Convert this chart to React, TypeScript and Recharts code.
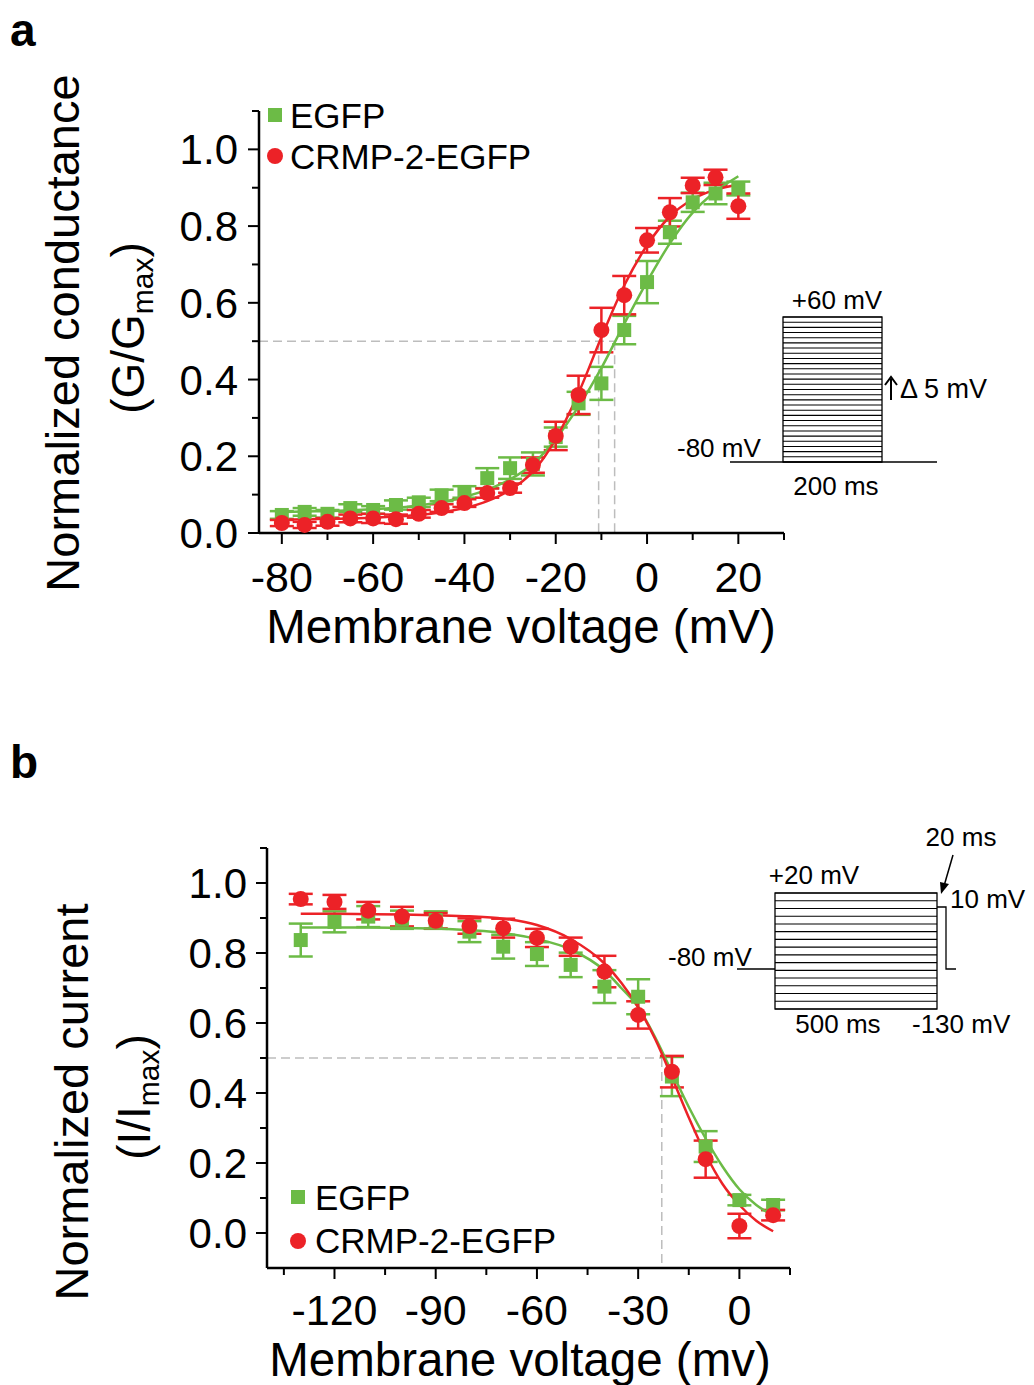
import React from "react";
import { ComposedChart, Scatter, Line, XAxis, YAxis, ErrorBar, ReferenceLine } from "recharts";

const GREEN = "#6cbb46";
const RED = "#ec2227";
const GRAY = "#bdbdbd";
const FONT = "'Liberation Sans', Arial, sans-serif";

// panel a: activation (G/Gmax)
const actV = [-80, -75, -70, -65, -60, -55, -50, -45, -40, -35, -30, -25, -20, -15, -10, -5, 0, 5, 10, 15, 20];
const actEgfp = [0.047, 0.055, 0.05, 0.065, 0.06, 0.073, 0.08, 0.098, 0.107, 0.143, 0.169, 0.18, 0.25, 0.338, 0.39, 0.529, 0.654, 0.784, 0.862, 0.885, 0.898];
const actEgfpErr = [0.01, 0.01, 0.01, 0.01, 0.01, 0.012, 0.012, 0.015, 0.015, 0.026, 0.028, 0.03, 0.025, 0.03, 0.043, 0.037, 0.055, 0.03, 0.025, 0.028, 0.018];
const actCrmp = [0.026, 0.021, 0.029, 0.038, 0.038, 0.036, 0.05, 0.065, 0.078, 0.104, 0.117, 0.177, 0.253, 0.36, 0.529, 0.62, 0.763, 0.836, 0.906, 0.927, 0.852];
const actCrmpErr = [0.008, 0.008, 0.01, 0.01, 0.012, 0.012, 0.01, 0.01, 0.01, 0.012, 0.012, 0.02, 0.037, 0.05, 0.058, 0.05, 0.032, 0.037, 0.02, 0.02, 0.033];
const actFitEgfp = [0.055, 0.056, 0.057, 0.059, 0.062, 0.066, 0.072, 0.081, 0.094, 0.113, 0.14, 0.18, 0.245, 0.33, 0.43, 0.545, 0.655, 0.755, 0.835, 0.89, 0.93];
const actFitCrmp = [0.035, 0.036, 0.037, 0.038, 0.04, 0.043, 0.047, 0.054, 0.065, 0.083, 0.112, 0.16, 0.245, 0.365, 0.51, 0.645, 0.75, 0.825, 0.87, 0.895, 0.908];
const actHalf = { egfp: -7.1, crmp: -10.6 };
const actXTicks = [-80, -70, -60, -50, -40, -30, -20, -10, 0, 10, 20, 30];

// panel b: inactivation (I/Imax)
const inactV = [-130, -120, -110, -100, -90, -80, -70, -60, -50, -40, -30, -20, -10, 0, 10];
const inactEgfp = [0.837, 0.889, 0.904, 0.895, 0.894, 0.861, 0.818, 0.797, 0.766, 0.704, 0.675, 0.447, 0.247, 0.094, 0.08];
const inactEgfpErr = [0.047, 0.03, 0.03, 0.026, 0.025, 0.03, 0.034, 0.034, 0.035, 0.047, 0.05, 0.056, 0.044, 0.015, 0.015];
const inactCrmp = [0.954, 0.946, 0.921, 0.904, 0.892, 0.877, 0.871, 0.843, 0.818, 0.747, 0.623, 0.461, 0.211, 0.02, 0.051];
const inactCrmpErr = [0.015, 0.02, 0.025, 0.028, 0.022, 0.022, 0.027, 0.026, 0.026, 0.045, 0.039, 0.045, 0.053, 0.035, 0.015];
const inactFitV = [-130, -120, -110, -100, -90, -80, -70, -60, -50, -40, -35, -30, -25, -20, -15, -10, -5, 0, 5, 10];
const inactFitEgfp = [0.873, 0.873, 0.873, 0.872, 0.87, 0.865, 0.857, 0.84, 0.81, 0.75, 0.7, 0.645, 0.56, 0.46, 0.36, 0.27, 0.19, 0.125, 0.08, 0.05];
const inactFitCrmp = [0.912, 0.912, 0.911, 0.91, 0.908, 0.905, 0.898, 0.88, 0.84, 0.77, 0.715, 0.645, 0.555, 0.445, 0.33, 0.225, 0.14, 0.08, 0.035, 0.005];
const inactHalf = -23;
const inactXTicks = [-135, -120, -105, -90, -75, -60, -45, -30, -15, 0, 15];

const yTicks = [0, 0.1, 0.2, 0.3, 0.4, 0.5, 0.6, 0.7, 0.8, 0.9, 1.0, 1.1];

const rows = (xs: number[], ys: number[], es?: number[]) =>
  xs.map((v, i) => ({ v, y: ys[i], e: es ? es[i] : 0 }));

const Square = (p: any) => <rect x={p.cx - 7} y={p.cy - 7} width={14} height={14} fill={GREEN} />;
const Dot = (p: any) => <circle cx={p.cx} cy={p.cy} r={8} fill={RED} />;

const makeXTick = (isMajor: (v: number) => boolean, dy: number) => (p: any) => {
  const m = isMajor(p.payload.value);
  return (
    <g>
      <line x1={p.x} x2={p.x} y1={p.y} y2={p.y + (m ? 11 : 7)} stroke="#000" strokeWidth={2} />
      {m && (
        <text x={p.x} y={p.y + dy} textAnchor="middle" fontSize={43} fontFamily={FONT} fill="#000">
          {p.payload.value}
        </text>
      )}
    </g>
  );
};

const makeYTick = (gap: number) => (p: any) => {
  const v = p.payload.value;
  const m = Math.round(v * 10) % 2 === 0;
  return (
    <g>
      <line x1={p.x} x2={p.x - (m ? 11 : 7)} y1={p.y} y2={p.y} stroke="#000" strokeWidth={2} />
      {m && (
        <text x={p.x - gap} y={p.y + 15} textAnchor="end" fontSize={42} fontFamily={FONT} fill="#000">
          {v.toFixed(1)}
        </text>
      )}
    </g>
  );
};

function ActivationChart() {
  const eg = rows(actV, actEgfp, actEgfpErr);
  const cr = rows(actV, actCrmp, actCrmpErr);
  return (
    <ComposedChart width={1034} height={680} margin={{ top: 111, right: 250, left: 179, bottom: 87 }}>
      <XAxis type="number" dataKey="v" domain={[-85, 30]} ticks={actXTicks} interval={0}
        tickSize={0} tickMargin={0} tickLine={false} axisLine={{ stroke: "#000", strokeWidth: 2.5 }}
        height={60} tick={makeXTick((v) => v % 20 === 0, 59)} allowDataOverflow />
      <YAxis type="number" dataKey="y" domain={[0, 1.1]} ticks={yTicks} interval={0}
        tickSize={0} tickMargin={0} tickLine={false} axisLine={{ stroke: "#000", strokeWidth: 2.5 }}
        width={80} tick={makeYTick(21)} allowDataOverflow />
      <ReferenceLine segment={[{ x: -85, y: 0.5 }, { x: actHalf.egfp, y: 0.5 }]} stroke={GRAY} strokeWidth={1.5} strokeDasharray="9 5" />
      <ReferenceLine segment={[{ x: actHalf.crmp, y: 0.5 }, { x: actHalf.crmp, y: 0 }]} stroke={GRAY} strokeWidth={1.5} strokeDasharray="9 5" />
      <ReferenceLine segment={[{ x: actHalf.egfp, y: 0.5 }, { x: actHalf.egfp, y: 0 }]} stroke={GRAY} strokeWidth={1.5} strokeDasharray="9 5" />
      <Scatter data={eg} dataKey="y" shape={Square} isAnimationActive={false}>
        <ErrorBar dataKey="e" direction="y" width={12} stroke={GREEN} strokeWidth={2.5} />
      </Scatter>
      <Scatter data={cr} dataKey="y" shape={Dot} isAnimationActive={false}>
        <ErrorBar dataKey="e" direction="y" width={12} stroke={RED} strokeWidth={2.5} />
      </Scatter>
      <Line data={rows(actV, actFitEgfp)} dataKey="y" type="monotone" dot={false} stroke={GREEN} strokeWidth={2.5} isAnimationActive={false} />
      <Line data={rows(actV, actFitCrmp)} dataKey="y" type="monotone" dot={false} stroke={RED} strokeWidth={2.5} isAnimationActive={false} />
    </ComposedChart>
  );
}

function InactivationChart() {
  const eg = rows(inactV, inactEgfp, inactEgfpErr);
  const cr = rows(inactV, inactCrmp, inactCrmpErr);
  return (
    <ComposedChart width={1034} height={685} margin={{ top: 148, right: 244, left: 187, bottom: 57 }}>
      <XAxis type="number" dataKey="v" domain={[-140, 15]} ticks={inactXTicks} interval={0}
        tickSize={0} tickMargin={0} tickLine={false} axisLine={{ stroke: "#000", strokeWidth: 2.5 }}
        height={60} tick={makeXTick((v) => v % 30 === 0, 57)} allowDataOverflow />
      <YAxis type="number" dataKey="y" domain={[-0.1, 1.1]} ticks={yTicks} interval={0}
        tickSize={0} tickMargin={0} tickLine={false} axisLine={{ stroke: "#000", strokeWidth: 2.5 }}
        width={80} tick={makeYTick(20)} allowDataOverflow />
      <ReferenceLine segment={[{ x: -140, y: 0.5 }, { x: inactHalf, y: 0.5 }]} stroke={GRAY} strokeWidth={1.5} strokeDasharray="9 5" />
      <ReferenceLine segment={[{ x: inactHalf, y: 0.5 }, { x: inactHalf, y: -0.1 }]} stroke={GRAY} strokeWidth={1.5} strokeDasharray="9 5" />
      <Scatter data={eg} dataKey="y" shape={Square} isAnimationActive={false}>
        <ErrorBar dataKey="e" direction="y" width={12} stroke={GREEN} strokeWidth={2.5} />
      </Scatter>
      <Scatter data={cr} dataKey="y" shape={Dot} isAnimationActive={false}>
        <ErrorBar dataKey="e" direction="y" width={12} stroke={RED} strokeWidth={2.5} />
      </Scatter>
      <Line data={rows(inactFitV, inactFitEgfp)} dataKey="y" type="monotone" dot={false} stroke={GREEN} strokeWidth={2.5} isAnimationActive={false} />
      <Line data={rows(inactFitV, inactFitCrmp)} dataKey="y" type="monotone" dot={false} stroke={RED} strokeWidth={2.5} isAnimationActive={false} />
    </ComposedChart>
  );
}

function Overlay() {
  const t = { fontFamily: FONT, fill: "#000" } as const;
  const stepsA = Array.from({ length: 29 }, (_, i) => 317 + (i * 145) / 28);
  const stepsB = Array.from({ length: 16 }, (_, i) => 893 + (i * 116) / 15);
  return (
    <svg width={1034} height={1385} style={{ position: "absolute", left: 0, top: 0, pointerEvents: "none" }}>
      {/* panel letters */}
      <text x={10} y={46} fontSize={46} fontWeight="bold" {...t}>a</text>
      <text x={10} y={778} fontSize={46} fontWeight="bold" {...t}>b</text>

      {/* panel a titles */}
      <text transform="translate(79,333) rotate(-90)" textAnchor="middle" fontSize={47} {...t}>Normalized conductance</text>
      <text transform="translate(144,328) rotate(-90)" textAnchor="middle" fontSize={46} {...t}>
        (G/G<tspan fontSize={30} dy={9}>max</tspan><tspan dy={-9}>)</tspan>
      </text>
      <text x={521} y={643} textAnchor="middle" fontSize={47.5} {...t}>Membrane voltage (mV)</text>

      {/* panel a legend */}
      <rect x={268} y={108} width={14} height={14} fill={GREEN} />
      <text x={290} y={128} fontSize={35} {...t}>EGFP</text>
      <circle cx={275} cy={156} r={8} fill={RED} />
      <text x={290} y={169} fontSize={35} {...t}>CRMP-2-EGFP</text>

      {/* panel a inset */}
      <rect x={783} y={317} width={99} height={145} fill="none" stroke="#000" strokeWidth={1.3} />
      {stepsA.map((y, i) => <line key={i} x1={783} x2={882} y1={y} y2={y} stroke="#000" strokeWidth={1.1} />)}
      <line x1={730} x2={937} y1={462} y2={462} stroke="#000" strokeWidth={1.3} />
      <text x={837} y={309} textAnchor="middle" fontSize={26} {...t}>+60 mV</text>
      <text x={677} y={457} fontSize={26} {...t}>-80 mV</text>
      <line x1={891} y1={400} x2={891} y2={379} stroke="#000" strokeWidth={2} />
      <polyline points="885,385 891,377 897,385" fill="none" stroke="#000" strokeWidth={2} />
      <text x={900} y={398} fontSize={27} {...t}>Δ 5 mV</text>
      <text x={836} y={495} textAnchor="middle" fontSize={26} {...t}>200 ms</text>

      {/* panel b titles */}
      <text transform="translate(88,1102) rotate(-90)" textAnchor="middle" fontSize={47} {...t}>Normalized current</text>
      <text transform="translate(150,1097) rotate(-90)" textAnchor="middle" fontSize={46} {...t}>
        (I/I<tspan fontSize={30} dy={9}>max</tspan><tspan dy={-9}>)</tspan>
      </text>
      <text x={520} y={1376} textAnchor="middle" fontSize={47.5} {...t}>Membrane voltage (mv)</text>

      {/* panel b legend */}
      <rect x={291} y={1190} width={14} height={14} fill={GREEN} />
      <text x={315} y={1210} fontSize={35} {...t}>EGFP</text>
      <circle cx={298} cy={1241} r={8} fill={RED} />
      <text x={315} y={1253} fontSize={35} {...t}>CRMP-2-EGFP</text>

      {/* panel b inset */}
      <rect x={775} y={893} width={162} height={116} fill="none" stroke="#000" strokeWidth={1.3} />
      {stepsB.map((y, i) => <line key={i} x1={775} x2={937} y1={y} y2={y} stroke="#000" strokeWidth={1.1} />)}
      <line x1={737} x2={775} y1={969} y2={969} stroke="#000" strokeWidth={1.3} />
      <polyline points="937,907 946,907 946,969 956,969" fill="none" stroke="#000" strokeWidth={1.3} />
      <line x1={953} y1={855} x2={944} y2={886} stroke="#000" strokeWidth={1.5} />
      <polygon points="941,894 940,882 949,884" fill="#000" />
      <text x={961} y={846} textAnchor="middle" fontSize={26} {...t}>20 ms</text>
      <text x={950} y={908} fontSize={26} {...t}>10 mV</text>
      <text x={814} y={884} textAnchor="middle" fontSize={26} {...t}>+20 mV</text>
      <text x={668} y={966} fontSize={26} {...t}>-80 mV</text>
      <text x={838} y={1033} textAnchor="middle" fontSize={26} {...t}>500 ms</text>
      <text x={912} y={1033} fontSize={26} {...t}>-130 mV</text>
    </svg>
  );
}

export default function App() {
  return (
    <div style={{ position: "absolute", left: 0, top: 0, width: 1034, height: 1385, background: "#fff", fontFamily: FONT }}>
      <div style={{ position: "absolute", left: 0, top: 0 }}>
        <ActivationChart />
      </div>
      <div style={{ position: "absolute", left: 0, top: 700 }}>
        <InactivationChart />
      </div>
      <Overlay />
    </div>
  );
}
